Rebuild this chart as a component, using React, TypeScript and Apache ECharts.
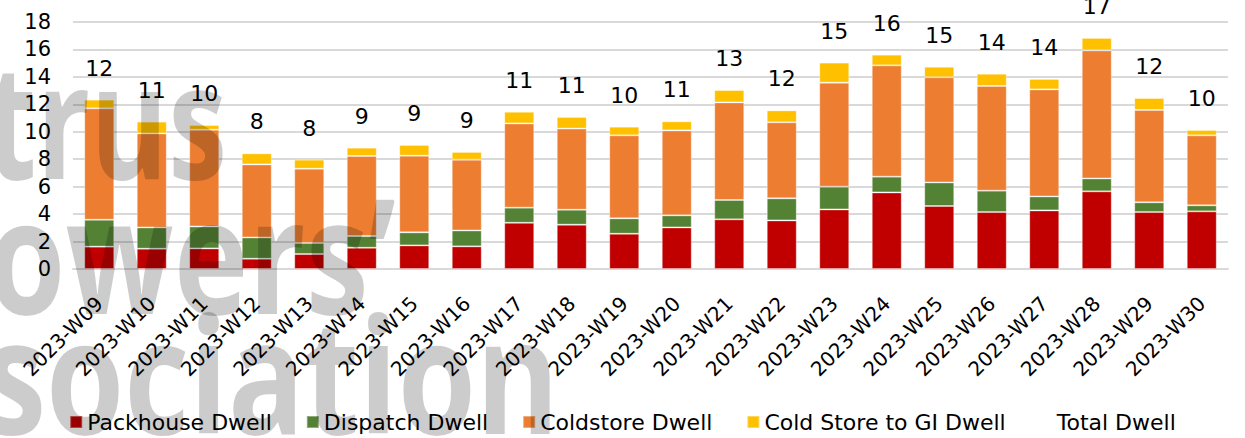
import React, { useEffect, useRef } from "react";
import * as echarts from "echarts";

const categories = [
  "2023-W09", "2023-W10", "2023-W11", "2023-W12", "2023-W13", "2023-W14",
  "2023-W15", "2023-W16", "2023-W17", "2023-W18", "2023-W19", "2023-W20",
  "2023-W21", "2023-W22", "2023-W23", "2023-W24", "2023-W25", "2023-W26",
  "2023-W27", "2023-W28", "2023-W29", "2023-W30",
];
const packhouseDwell = [1.63, 1.48, 1.5, 0.75, 1.09, 1.55, 1.72, 1.65, 3.37, 3.23, 2.57, 3.03, 3.62, 3.54, 4.34, 5.58, 4.59, 4.15, 4.27, 5.66, 4.15, 4.2];
const dispatchDwell = [1.96, 1.55, 1.6, 1.55, 0.81, 0.85, 0.95, 1.16, 1.1, 1.09, 1.12, 0.88, 1.41, 1.61, 1.66, 1.15, 1.72, 1.56, 1.02, 0.94, 0.71, 0.44];
const coldstoreDwell = [8.12, 6.85, 7.05, 5.32, 5.41, 5.84, 5.59, 5.16, 6.14, 5.91, 6.05, 6.19, 7.11, 5.54, 7.58, 8.11, 7.66, 7.63, 7.8, 9.33, 6.73, 5.1];
const coldStoreToGIDwell = [0.63, 0.86, 0.34, 0.81, 0.66, 0.6, 0.78, 0.56, 0.85, 0.85, 0.63, 0.66, 0.9, 0.87, 1.46, 0.78, 0.77, 0.89, 0.76, 0.91, 0.87, 0.39];
const yTicks = { min: 0, max: 18, interval: 2 };
const watermarkLines = ["Citrus", "Growers\u2019", "Association"];

const FONT = '"DejaVu Sans", sans-serif';

export default function App() {
  const ref = useRef<HTMLDivElement>(null);
  useEffect(() => {
    if (!ref.current) return;
    const chart = echarts.init(ref.current, null, { renderer: "svg" });
    const totals = categories.map(
      (_, i) => packhouseDwell[i] + dispatchDwell[i] + coldstoreDwell[i] + coldStoreToGIDwell[i]
    );
    const barSeries = (name: string, data: number[], color: string) => ({
      name,
      type: "bar",
      stack: "dwell",
      data,
      barWidth: 30,
      itemStyle: { color, borderColor: "rgba(255,255,255,0.35)", borderWidth: 1 },
    });
    const wmFont = 'bold 160px "Open Sans", sans-serif';
    const wmFill = "rgba(0,0,0,0.2)";
    const wm = (text: string, x: number, y: number, sx: number) => ({
      type: "text",
      x,
      y,
      scaleX: sx,
      z: 100,
      silent: true,
      style: { text, font: wmFont, fill: wmFill, align: "right", verticalAlign: "middle" },
    });
    chart.setOption({
      animation: false,
      backgroundColor: "#fff",
      textStyle: { fontFamily: FONT },
      grid: { left: 73, right: 17, top: 22, bottom: 169 },
      legend: {
        bottom: 0,
        left: "center",
        icon: "rect",
        itemWidth: 12,
        itemHeight: 12,
        itemGap: 34,
        textStyle: { fontSize: 22, color: "#000", fontFamily: FONT },
        data: [
          "Packhouse Dwell",
          "Dispatch Dwell",
          "Coldstore Dwell",
          "Cold Store to GI Dwell",
          { name: "Total Dwell", itemStyle: { opacity: 0 } },
        ],
      },
      xAxis: {
        type: "category",
        data: categories,
        axisTick: { show: false },
        axisLine: { lineStyle: { color: "#d9d9d9", width: 2 } },
        axisLabel: {
          interval: 0,
          rotate: 45,
          margin: 31,
          fontSize: 20,
          color: "#000",
          fontFamily: FONT,
        },
      },
      yAxis: {
        type: "value",
        min: yTicks.min,
        max: yTicks.max,
        interval: yTicks.interval,
        axisLine: { show: false },
        axisTick: { show: false },
        axisLabel: { margin: 22, fontSize: 21, color: "#000", fontFamily: FONT },
        splitLine: { lineStyle: { color: "#d9d9d9", width: 2 } },
      },
      series: [
        barSeries("Packhouse Dwell", packhouseDwell, "#C00000"),
        barSeries("Dispatch Dwell", dispatchDwell, "#548235"),
        barSeries("Coldstore Dwell", coldstoreDwell, "#ED7D31"),
        barSeries("Cold Store to GI Dwell", coldStoreToGIDwell, "#FFC000"),
        {
          name: "Total Dwell",
          type: "line",
          data: totals,
          symbol: "circle",
          symbolSize: 1,
          lineStyle: { opacity: 0, width: 0 },
          itemStyle: { color: "transparent" },
          label: {
            show: true,
            position: "top",
            distance: 20,
            fontSize: 22,
            color: "#000",
            fontFamily: FONT,
            formatter: (p: any) => String(Math.round(p.value)),
          },
        },
      ],
      graphic: [
        wm(watermarkLines[0], 227, 117, 0.74),
        wm(watermarkLines[1], 396, 252, 0.79),
        wm(watermarkLines[2], 559, 372, 0.79),
      ],
    });
    return () => chart.dispose();
  }, []);
  return (
    <div
      ref={ref}
      style={{ position: "absolute", left: 0, top: 0, width: 1245, height: 438 }}
    />
  );
}
